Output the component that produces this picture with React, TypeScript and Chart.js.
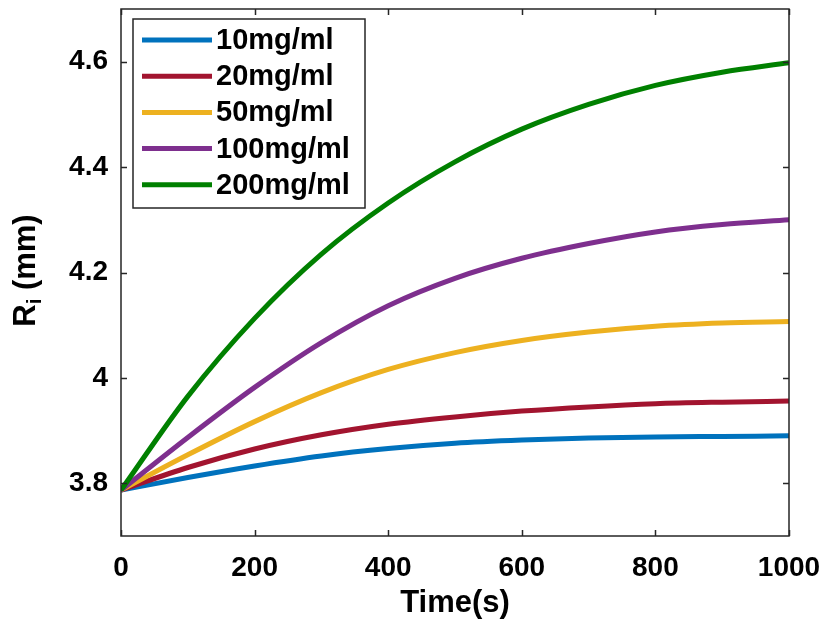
import React, { useEffect, useRef } from "react";
import { Chart, registerables } from "chart.js";

Chart.register(...registerables);

const TIME = [0, 100, 200, 300, 400, 500, 600, 700, 800, 900, 1000];
const SERIES_LABELS = ["10mg/ml", "20mg/ml", "50mg/ml", "100mg/ml", "200mg/ml"];
const R10 = [3.787, 3.811, 3.833, 3.852, 3.866, 3.876, 3.882, 3.886, 3.888, 3.889, 3.89];
const R20 = [3.787, 3.83, 3.865, 3.892, 3.912, 3.926, 3.937, 3.945, 3.951, 3.954, 3.956];
const R50 = [3.787, 3.854, 3.917, 3.972, 4.016, 4.048, 4.071, 4.087, 4.098, 4.104, 4.107];
const R100 = [3.787, 3.887, 3.982, 4.067, 4.137, 4.189, 4.227, 4.255, 4.277, 4.291, 4.3];
const R200 = [3.787, 3.965, 4.113, 4.235, 4.332, 4.41, 4.472, 4.519, 4.555, 4.58, 4.598];
const COLORS = ["#0072BD", "#A2142F", "#EDB120", "#7E2F8E", "#008000"];
const X_TICKS = [0, 200, 400, 600, 800, 1000];
const Y_TICKS = [3.8, 4.0, 4.2, 4.4, 4.6];

const FONT = '"Liberation Sans", Arial, Helvetica, sans-serif';
const AXIS_COLOR = "#262626";

const decor = {
  id: "decor",
  afterDraw(chart: any) {
    const { ctx, chartArea: a, scales } = chart;
    const xs = scales.x;
    const ys = scales.y;
    ctx.save();
    ctx.strokeStyle = AXIS_COLOR;
    ctx.lineWidth = 1.5;
    ctx.strokeRect(a.left, a.top, a.right - a.left, a.bottom - a.top);
    const L = 6;
    ctx.beginPath();
    for (const v of X_TICKS) {
      const px = Math.round(xs.getPixelForValue(v)) + 0.5;
      ctx.moveTo(px, a.bottom);
      ctx.lineTo(px, a.bottom - L);
      ctx.moveTo(px, a.top);
      ctx.lineTo(px, a.top + L);
    }
    for (const v of Y_TICKS) {
      const py = Math.round(ys.getPixelForValue(v)) + 0.5;
      ctx.moveTo(a.left, py);
      ctx.lineTo(a.left + L, py);
      ctx.moveTo(a.right, py);
      ctx.lineTo(a.right - L, py);
    }
    ctx.stroke();

    // y axis title with subscript
    ctx.fillStyle = "#000";
    const cy = (a.top + a.bottom) / 2 - 2;
    ctx.translate(35, cy);
    ctx.rotate(-Math.PI / 2);
    const big = `bold 31px ${FONT}`;
    const small = `bold 20px ${FONT}`;
    ctx.font = big;
    const wR = ctx.measureText("R").width;
    const wRest = ctx.measureText(" (mm)").width;
    ctx.font = small;
    const wI = ctx.measureText("i").width;
    const total = wR + wI + wRest;
    let sx = -total / 2;
    ctx.textBaseline = "alphabetic";
    ctx.textAlign = "left";
    ctx.font = big;
    ctx.fillText("R", sx, 0);
    sx += wR;
    ctx.font = small;
    ctx.fillText("i", sx, 6);
    sx += wI;
    ctx.font = big;
    ctx.fillText(" (mm)", sx, 0);
    ctx.restore();

    // legend
    ctx.save();
    const bx = a.left + 12;
    const by = a.top + 10;
    const bw = 232;
    const bh = 189;
    ctx.fillStyle = "#fff";
    ctx.fillRect(bx, by, bw, bh);
    ctx.strokeStyle = AXIS_COLOR;
    ctx.lineWidth = 1.5;
    ctx.strokeRect(bx, by, bw, bh);
    ctx.font = `bold 29px ${FONT}`;
    ctx.textBaseline = "middle";
    ctx.textAlign = "left";
    chart.data.datasets.forEach((ds: any, i: number) => {
      const ry = by + 21 + i * 36.2;
      ctx.strokeStyle = ds.borderColor;
      ctx.lineWidth = 5;
      ctx.beginPath();
      ctx.moveTo(bx + 9, ry);
      ctx.lineTo(bx + 79, ry);
      ctx.stroke();
      ctx.fillStyle = "#000";
      ctx.fillText(ds.label, bx + 83, ry + 1);
    });
    ctx.restore();
  },
};

export default function App() {
  const ref = useRef<HTMLCanvasElement | null>(null);
  useEffect(() => {
    document.body.style.margin = "0";
    const seriesData = [R10, R20, R50, R100, R200];
    const chart = new Chart(ref.current as HTMLCanvasElement, {
      type: "line",
      data: {
        labels: TIME,
        datasets: seriesData.map((arr, i) => ({
          label: SERIES_LABELS[i],
          data: TIME.map((t, j) => ({ x: t, y: arr[j] })),
          borderColor: COLORS[i],
          backgroundColor: COLORS[i],
          borderWidth: 5,
          pointRadius: 0,
          cubicInterpolationMode: "monotone" as const,
          fill: false,
          order: seriesData.length - i,
        })),
      },
      options: {
        animation: false,
        responsive: true,
        maintainAspectRatio: false,
        layout: { padding: { top: 9, right: 35, left: 0, bottom: 0 } },
        plugins: { legend: { display: false }, tooltip: { enabled: false } },
        scales: {
          x: {
            type: "linear",
            min: 0,
            max: 1000,
            afterBuildTicks: (s: any) => {
              s.ticks = X_TICKS.map((v) => ({ value: v }));
            },
            afterFit: (s: any) => {
              s.height = 90;
              s.paddingLeft = 0;
              s.paddingRight = 0;
            },
            grid: { display: false, drawTicks: false },
            border: { display: false },
            ticks: {
              padding: 15,
              color: "#000",
              font: { family: FONT, size: 28, weight: "bold" },
              maxRotation: 0,
              callback: (v: any) => String(v),
            },
            title: {
              display: true,
              text: "Time(s)",
              color: "#000",
              font: { family: FONT, size: 31, weight: "bold" },
              padding: { top: 0, bottom: 4 },
            },
          },
          y: {
            type: "linear",
            min: 3.7,
            max: 4.7,
            afterBuildTicks: (s: any) => {
              s.ticks = Y_TICKS.map((v) => ({ value: v }));
            },
            afterFit: (s: any) => {
              s.width = 121;
              s.paddingTop = 0;
              s.paddingBottom = 0;
            },
            grid: { display: false, drawTicks: false },
            border: { display: false },
            ticks: {
              padding: 13,
              color: "#000",
              font: { family: FONT, size: 28, weight: "bold" },
              callback: (v: any) => String(Number(Number(v).toFixed(1))),
            },
            title: { display: false },
          },
        },
      },
      plugins: [decor],
    });
    return () => chart.destroy();
  }, []);
  return (
    <div style={{ width: 824, height: 626, position: "relative", background: "#fff" }}>
      <canvas ref={ref} />
    </div>
  );
}
